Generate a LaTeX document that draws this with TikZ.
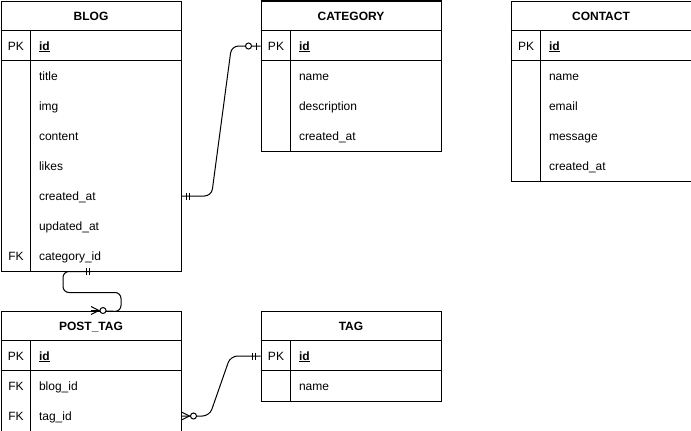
\documentclass[tikz,border=0pt]{standalone}
\usepackage{fontspec}
\setmainfont{Liberation Sans}
\usetikzlibrary{calc}
\begin{document}
\begin{tikzpicture}[x=1pt,y=-1pt,line width=1pt,
  font=\fontsize{12}{14}\selectfont,
  tbl/.style={draw,minimum width=180pt,anchor=north west,inner sep=0pt},
  hdr/.style={minimum width=180pt,minimum height=30pt,anchor=north west,inner sep=0pt,text height=11pt,text depth=3pt,font=\fontsize{12}{14}\selectfont\bfseries},
  keyc/.style={minimum width=30pt,minimum height=30pt,anchor=north west,inner sep=0pt,text height=11pt,text depth=3pt},
  fld/.style={minimum height=30pt,anchor=north west,inner xsep=8pt,inner ysep=0pt,text width=134pt,align=left,text height=11pt,text depth=3pt},
  rel/.style={draw,line width=1pt,rounded corners=7pt},
  ring/.style={draw,fill=white,line width=1pt}]
\useasboundingbox (0,0) rectangle (691,431);

% ---------- BLOG ----------
\node[tbl,minimum height=270pt] (blog) at (0.5,0.5) {};
\node[hdr] (blog-h) at (blog.north west) {BLOG};
\draw ([shift={(0,30)}]blog.north west) -- ++(180,0);
\draw ([shift={(0,60)}]blog.north west) -- ++(180,0);
\draw ([shift={(30,30)}]blog.north west) -- ([xshift=30]blog.south west);
\node[keyc] (blog-pk) at ([shift={(0,30)}]blog.north west) {PK};
\node[fld] (blog-id) at ([shift={(30,30)}]blog.north west) {\textbf{\underline{id}}};
\node[fld] (blog-title) at ([shift={(30,60)}]blog.north west) {title};
\node[fld] (blog-img) at ([shift={(30,90)}]blog.north west) {img};
\node[fld] (blog-content) at ([shift={(30,120)}]blog.north west) {content};
\node[fld] (blog-likes) at ([shift={(30,150)}]blog.north west) {likes};
\node[fld] (blog-created) at ([shift={(30,180)}]blog.north west) {created\_at};
\node[fld] (blog-updated) at ([shift={(30,210)}]blog.north west) {updated\_at};
\node[keyc] (blog-fk) at ([shift={(0,240)}]blog.north west) {FK};
\node[fld] (blog-cat) at ([shift={(30,240)}]blog.north west) {category\_id};

% ---------- CATEGORY ----------
\node[tbl,minimum height=150pt] (cat) at (260.5,0.5) {};
\node[hdr] (cat-h) at (cat.north west) {CATEGORY};
\draw ([shift={(0,30)}]cat.north west) -- ++(180,0);
\draw ([shift={(0,60)}]cat.north west) -- ++(180,0);
\draw ([shift={(30,30)}]cat.north west) -- ([xshift=30]cat.south west);
\node[keyc] (cat-pk) at ([shift={(0,30)}]cat.north west) {PK};
\node[fld] (cat-id) at ([shift={(30,30)}]cat.north west) {\textbf{\underline{id}}};
\node[fld] (cat-name) at ([shift={(30,60)}]cat.north west) {name};
\node[fld] (cat-desc) at ([shift={(30,90)}]cat.north west) {description};
\node[fld] (cat-created) at ([shift={(30,120)}]cat.north west) {created\_at};

% ---------- CONTACT ----------
\node[tbl,minimum height=180pt] (con) at (510.5,0.5) {};
\node[hdr] (con-h) at (con.north west) {CONTACT};
\draw ([shift={(0,30)}]con.north west) -- ++(180,0);
\draw ([shift={(0,60)}]con.north west) -- ++(180,0);
\draw ([shift={(30,30)}]con.north west) -- ([xshift=30]con.south west);
\node[keyc] (con-pk) at ([shift={(0,30)}]con.north west) {PK};
\node[fld] (con-id) at ([shift={(30,30)}]con.north west) {\textbf{\underline{id}}};
\node[fld] (con-name) at ([shift={(30,60)}]con.north west) {name};
\node[fld] (con-email) at ([shift={(30,90)}]con.north west) {email};
\node[fld] (con-msg) at ([shift={(30,120)}]con.north west) {message};
\node[fld] (con-created) at ([shift={(30,150)}]con.north west) {created\_at};

% ---------- POST_TAG ----------
\node[tbl,minimum height=120pt] (ptag) at (0.5,310.5) {};
\node[hdr] (ptag-h) at (ptag.north west) {POST\_TAG};
\draw ([shift={(0,30)}]ptag.north west) -- ++(180,0);
\draw ([shift={(0,60)}]ptag.north west) -- ++(180,0);
\draw ([shift={(30,30)}]ptag.north west) -- ([xshift=30]ptag.south west);
\node[keyc] (ptag-pk) at ([shift={(0,30)}]ptag.north west) {PK};
\node[fld] (ptag-id) at ([shift={(30,30)}]ptag.north west) {\textbf{\underline{id}}};
\node[keyc] (ptag-fk1) at ([shift={(0,60)}]ptag.north west) {FK};
\node[fld] (ptag-blog) at ([shift={(30,60)}]ptag.north west) {blog\_id};
\node[keyc] (ptag-fk2) at ([shift={(0,90)}]ptag.north west) {FK};
\node[fld] (ptag-tag) at ([shift={(30,90)}]ptag.north west) {tag\_id};

% ---------- TAG ----------
\node[tbl,minimum height=90pt] (tag) at (260.5,310.5) {};
\node[hdr] (tag-h) at (tag.north west) {TAG};
\draw ([shift={(0,30)}]tag.north west) -- ++(180,0);
\draw ([shift={(0,60)}]tag.north west) -- ++(180,0);
\draw ([shift={(30,30)}]tag.north west) -- ([xshift=30]tag.south west);
\node[keyc] (tag-pk) at ([shift={(0,30)}]tag.north west) {PK};
\node[fld] (tag-id) at ([shift={(30,30)}]tag.north west) {\textbf{\underline{id}}};
\node[fld] (tag-name) at ([shift={(30,60)}]tag.north west) {name};

% ---------- BLOG.created_at -- CATEGORY.id ----------
\draw[rel] (blog-created.east) -- ++(30,0) -- ([xshift=-29]cat-pk.west) -- (cat-pk.west);
\draw ([shift={(5,-3.5)}]blog-created.east) -- ++(0,7);
\draw ([shift={(8,-3.5)}]blog-created.east) -- ++(0,7);
\draw ([shift={(-4,-3.5)}]cat-pk.west) -- ++(0,7);
\draw[ring] ([xshift=-12]cat-pk.west) circle (3);

% ---------- BLOG -- POST_TAG ----------
\draw[rel,rounded corners=6pt] (blog.south) -- ++(-28,0) -- ++(0,21) -- ++(58,0) -- ++(0,19) -- (ptag.north);
\draw ([shift={(-5,-3.5)}]blog.south) -- ++(0,7);
\draw ([shift={(-2,-3.5)}]blog.south) -- ++(0,7);
\draw ([shift={(0,-4)}]ptag.north) -- ([xshift=8]ptag.north) -- ([shift={(0,4)}]ptag.north);
\draw[ring] ([xshift=12]ptag.north) circle (3);

% ---------- POST_TAG.tag_id -- TAG.id ----------
\draw[rel] (ptag-tag.east) -- ++(28,0) -- ([xshift=-30]tag-pk.west) -- (tag-pk.west);
\draw ([shift={(0,-4)}]ptag-tag.east) -- ([xshift=8]ptag-tag.east) -- ([shift={(0,4)}]ptag-tag.east);
\draw[ring] ([xshift=12]ptag-tag.east) circle (3);
\draw ([shift={(-8,-3.5)}]tag-pk.west) -- ++(0,7);
\draw ([shift={(-5,-3.5)}]tag-pk.west) -- ++(0,7);
\end{tikzpicture}
\end{document}
